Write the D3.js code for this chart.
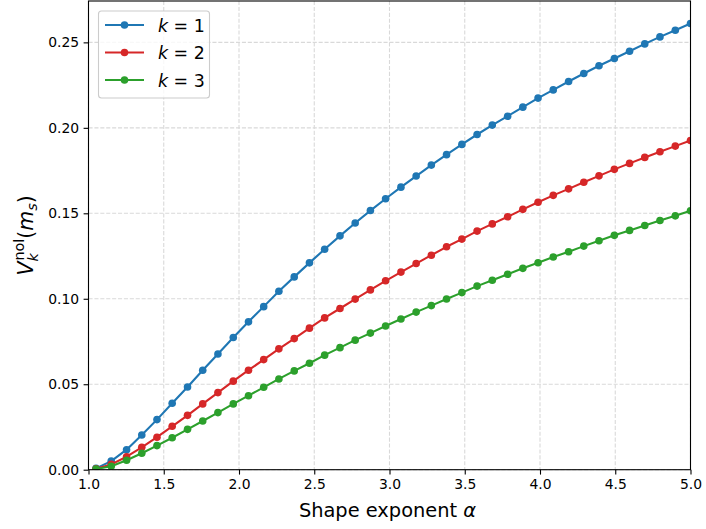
<!DOCTYPE html>
<html>
<head>
<meta charset="utf-8">
<script src="https://cdn.jsdelivr.net/npm/d3@7"></script>
<style>
  body { margin: 0; background: #fff; }
  svg { display: block; font-family: "DejaVu Sans", sans-serif; }
</style>
</head>
<body>
<svg id="chart" width="706" height="529"></svg>
<script>
// shape exponent values (40 points)
let alphaValues = [1.05, 1.151, 1.253, 1.354, 1.455, 1.556, 1.658, 1.759, 1.860, 1.962,
  2.063, 2.164, 2.265, 2.367, 2.468, 2.569, 2.671, 2.772, 2.873, 2.974,
  3.076, 3.177, 3.278, 3.379, 3.481, 3.582, 3.683, 3.785, 3.886, 3.987,
  4.088, 4.190, 4.291, 4.392, 4.494, 4.595, 4.696, 4.797, 4.899, 5.0];

let k1Values = [0.0008, 0.0050, 0.0117, 0.0203, 0.0293, 0.0389, 0.0484, 0.0582, 0.0677, 0.0773,
  0.0865, 0.0954, 0.1044, 0.1128, 0.1210, 0.1290, 0.1368, 0.1443, 0.1516, 0.1585,
  0.1653, 0.1718, 0.1782, 0.1843, 0.1903, 0.1961, 0.2016, 0.2068, 0.2121, 0.2174,
  0.2222, 0.2271, 0.2318, 0.2363, 0.2406, 0.2448, 0.2491, 0.2532, 0.2571, 0.2610];

let k2Values = [0.0005, 0.0031, 0.0076, 0.0131, 0.0190, 0.0254, 0.0318, 0.0385, 0.0451, 0.0518,
  0.0582, 0.0644, 0.0707, 0.0767, 0.0828, 0.0888, 0.0943, 0.0998, 0.1052, 0.1105,
  0.1156, 0.1206, 0.1255, 0.1304, 0.1349, 0.1396, 0.1438, 0.1480, 0.1523, 0.1565,
  0.1605, 0.1643, 0.1682, 0.1719, 0.1757, 0.1792, 0.1827, 0.1860, 0.1893, 0.1926];

let k3Values = [0.0004, 0.0020, 0.0055, 0.0096, 0.0141, 0.0187, 0.0236, 0.0285, 0.0334, 0.0385,
  0.0433, 0.0482, 0.0531, 0.0578, 0.0623, 0.0670, 0.0714, 0.0758, 0.0799, 0.0841,
  0.0882, 0.0922, 0.0960, 0.0999, 0.1036, 0.1074, 0.1108, 0.1143, 0.1178, 0.1211,
  0.1244, 0.1275, 0.1308, 0.1339, 0.1371, 0.1400, 0.1429, 0.1458, 0.1485, 0.1515];

let seriesNames = ['1', '2', '3'];
let seriesColors = ['#1f77b4', '#d62728', '#2ca02c'];

let xTicks = [1.0, 1.5, 2.0, 2.5, 3.0, 3.5, 4.0, 4.5, 5.0];
let yTicks = [0.00, 0.05, 0.10, 0.15, 0.20, 0.25];

let svg = d3.select('#chart');

let plotLeft = 88.5, plotRight = 690.5, plotTop = 1, plotBottom = 469.7;

let xScale = d3.scaleLinear().domain([1.0, 5.0]).range([plotLeft, plotRight]);
let yScale = d3.scaleLinear().domain([0, 0.2742]).range([plotBottom, plotTop]);

let series = [k1Values, k2Values, k3Values].map((vals, i) => {
    return {
        name: seriesNames[i],
        color: seriesColors[i],
        points: vals.map((v, j) => [alphaValues[j], v])
    };
});

svg.append('defs').append('clipPath')
    .attr('id', 'plotClip')
    .append('rect')
    .attr('x', plotLeft).attr('y', plotTop)
    .attr('width', plotRight - plotLeft).attr('height', plotBottom - plotTop);

// grid
let grid = svg.append('g');
grid.selectAll(null)
    .data(xTicks)
    .enter()
    .append('line')
    .attr('x1', d => xScale(d)).attr('x2', d => xScale(d))
    .attr('y1', plotTop).attr('y2', plotBottom)
    .attr('stroke', '#d9d9d9')
    .attr('stroke-width', 1.1)
    .attr('stroke-dasharray', '4.1,1.8');
grid.selectAll(null)
    .data(yTicks)
    .enter()
    .append('line')
    .attr('x1', plotLeft).attr('x2', plotRight)
    .attr('y1', d => yScale(d)).attr('y2', d => yScale(d))
    .attr('stroke', '#d9d9d9')
    .attr('stroke-width', 1.1)
    .attr('stroke-dasharray', '4.1,1.8');

// lines and markers
let plot = svg.append('g').attr('clip-path', 'url(#plotClip)');
let line = d3.line().x(d => xScale(d[0])).y(d => yScale(d[1]));

series.forEach((s) => {
    plot.append('path')
        .datum(s.points)
        .attr('d', line)
        .attr('fill', 'none')
        .attr('stroke', s.color)
        .attr('stroke-width', 2.1)
        .attr('stroke-linejoin', 'round');
    plot.selectAll(null)
        .data(s.points)
        .enter()
        .append('circle')
        .attr('cx', d => xScale(d[0]))
        .attr('cy', d => yScale(d[1]))
        .attr('r', 3.8)
        .attr('fill', s.color);
});

// axes
let xAxis = d3.axisBottom(xScale).tickValues(xTicks).tickFormat(d3.format('.1f')).tickSize(4.9).tickPadding(4.4);
let yAxis = d3.axisLeft(yScale).tickValues(yTicks).tickFormat(d3.format('.2f')).tickSize(4.9).tickPadding(4.4);

let gx = svg.append('g').attr('transform', `translate(0,${plotBottom})`).call(xAxis);
let gy = svg.append('g').attr('transform', `translate(${plotLeft},0)`).call(yAxis);

[gx, gy].forEach((g) => {
    g.select('.domain').remove();
    g.selectAll('.tick line').attr('stroke', '#000').attr('stroke-width', 1.1);
    g.selectAll('.tick text')
        .attr('fill', '#000')
        .style('font-family', '"DejaVu Sans", sans-serif')
        .style('font-size', '13.9px');
});

// frame
svg.append('rect')
    .attr('x', plotLeft).attr('y', plotTop)
    .attr('width', plotRight - plotLeft).attr('height', plotBottom - plotTop)
    .attr('fill', 'none')
    .attr('stroke', '#000')
    .attr('stroke-width', 1.1);

// x label
let xLabel = svg.append('text')
    .attr('x', (plotLeft + plotRight) / 2 - 2)
    .attr('y', 517)
    .attr('text-anchor', 'middle')
    .style('font-size', '19.4px');
xLabel.append('tspan').text('Shape exponent ');
xLabel.append('tspan').style('font-style', 'italic').text('α');

// y label  V_k^{nol}(m_s)
let yLabel = svg.append('text')
    .attr('transform', `translate(32.5,${(plotTop + plotBottom) / 2}) rotate(-90)`)
    .attr('text-anchor', 'middle')
    .style('font-size', '20.5px');
yLabel.append('tspan').style('font-style', 'italic').text('V');
yLabel.append('tspan').attr('dy', 5).style('font-style', 'italic').style('font-size', '14.4px').text('k');
yLabel.append('tspan').attr('dx', -7.5).attr('dy', -14).style('font-size', '14.4px').text('nol');
yLabel.append('tspan').attr('dy', 9).text('(');
yLabel.append('tspan').style('font-style', 'italic').text('m');
yLabel.append('tspan').attr('dy', 4).style('font-style', 'italic').style('font-size', '14.4px').text('s');
yLabel.append('tspan').attr('dy', -4).text(')');

// legend
let legend = svg.append('g');
legend.append('rect')
    .attr('x', 98.5).attr('y', 11)
    .attr('width', 111).attr('height', 87)
    .attr('rx', 3).attr('ry', 3)
    .attr('fill', 'rgba(255,255,255,0.8)')
    .attr('stroke', '#cccccc')
    .attr('stroke-width', 1.1);

let rows = legend.selectAll(null)
    .data(series)
    .enter()
    .append('g')
    .attr('transform', (d, i) => `translate(0,${25 + i * 27.5})`);

rows.append('line')
    .attr('x1', 105).attr('x2', 144)
    .attr('y1', 0).attr('y2', 0)
    .attr('stroke', d => d.color)
    .attr('stroke-width', 2.1);
rows.append('circle')
    .attr('cx', 124.5).attr('cy', 0).attr('r', 3.8)
    .attr('fill', d => d.color);

let rowText = rows.append('text')
    .attr('x', 158)
    .attr('y', 6.5)
    .style('font-size', '17.4px');
rowText.append('tspan').style('font-style', 'italic').text('k');
rowText.append('tspan').text(d => ' = ' + d.name);
</script>
</body>
</html>
